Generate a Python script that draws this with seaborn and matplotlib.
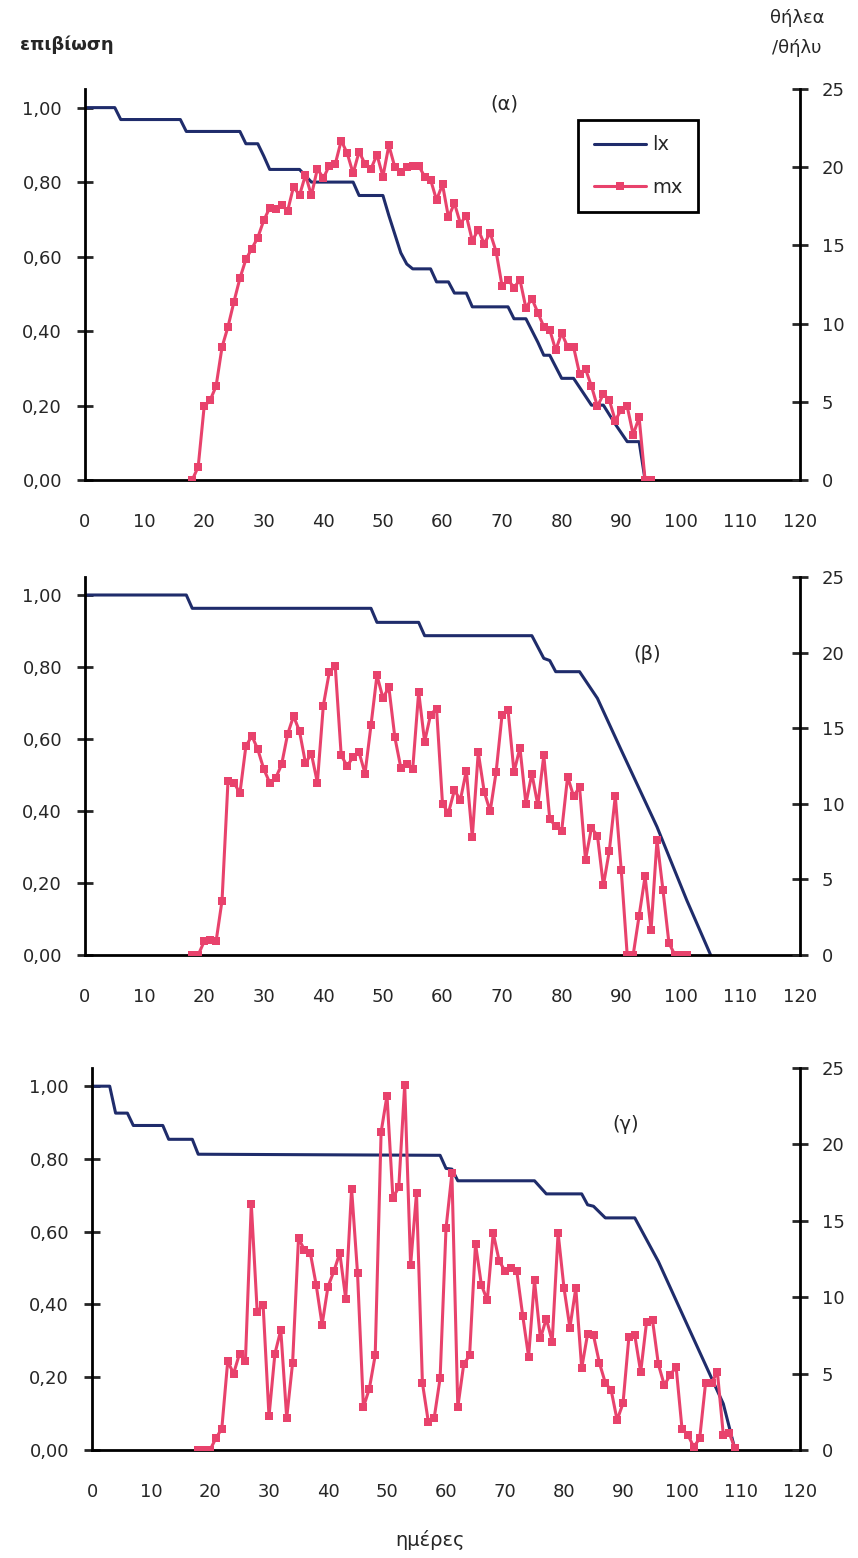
import numpy as np
import pandas as pd
import matplotlib
matplotlib.use("Agg")
import matplotlib.pyplot as plt
import seaborn as sns
from matplotlib.ticker import FuncFormatter
from matplotlib.lines import Line2D

sns.set_style("white")
plt.rcParams['font.family'] = ['DejaVu Sans']

BLUE = '#1f2c6b'
PINK = '#e8426c'

# (α) lx = επιβίωση (κορυφές της γραμμής), mx = θήλεα/θήλυ ανά ημέρα
lx_a_day = [0, 5, 6, 16, 17, 26, 27, 29, 30, 31, 36, 38, 45, 46, 50, 51, 52, 53, 54, 55,
            58, 59, 61, 62, 64, 65, 71, 72, 74, 76, 77, 78, 80, 82, 85, 87, 89, 91, 93, 94]
lx_a = [1.0, 1.0, 0.968, 0.968, 0.936, 0.936, 0.903, 0.903, 0.87, 0.834, 0.834, 0.80, 0.80, 0.764,
        0.764, 0.71, 0.66, 0.61, 0.58, 0.567, 0.567, 0.532, 0.532, 0.502, 0.502, 0.465, 0.465,
        0.433, 0.433, 0.37, 0.335, 0.335, 0.273, 0.273, 0.201, 0.201, 0.15, 0.103, 0.103, 0.0]
mx_a_day = list(range(18, 96))
mx_a = [0, 0.85, 4.7, 5.1, 6.0, 8.5, 9.8, 11.4, 12.9, 14.1, 14.8, 15.5, 16.6, 17.4, 17.3, 17.6,
        17.2, 18.75, 18.2, 19.5, 18.2, 19.9, 19.3, 20.1, 20.2, 21.7, 20.9, 19.6, 21.0, 20.2, 19.9,
        20.8, 19.4, 21.4, 20.0, 19.7, 20.0, 20.1, 20.1, 19.4, 19.2, 17.9, 18.9, 16.8, 17.7, 16.4,
        16.9, 15.3, 16.0, 15.1, 15.8, 14.6, 12.4, 12.8, 12.3, 12.8, 11.0, 11.6, 10.7, 9.8, 9.6,
        8.3, 9.4, 8.5, 8.5, 6.8, 7.1, 6.0, 4.7, 5.5, 5.1, 3.8, 4.5, 4.7, 2.9, 4.0, 0, 0]

# (β)
lx_b_day = [0, 17, 18, 48, 49, 56, 57, 75, 77, 78, 79, 83, 86, 90, 96, 101, 105]
lx_b = [1.0, 1.0, 0.963, 0.963, 0.924, 0.924, 0.887, 0.887, 0.824, 0.818, 0.787, 0.787,
        0.713, 0.569, 0.356, 0.152, 0.0]
mx_b_day = list(range(18, 102))
mx_b = [0, 0, 0.9, 1.0, 0.9, 3.6, 11.5, 11.4, 10.7, 13.8, 14.5, 13.6, 12.3, 11.4, 11.7, 12.6,
        14.6, 15.8, 14.8, 12.7, 13.3, 11.4, 16.5, 18.7, 19.1, 13.2, 12.5, 13.1, 13.4, 12.0, 15.2,
        18.5, 17.0, 17.7, 14.4, 12.4, 12.6, 12.3, 17.4, 14.1, 15.9, 16.3, 10.0, 9.4, 10.9, 10.25,
        12.2, 7.8, 13.4, 10.8, 9.5, 12.1, 15.9, 16.2, 12.1, 13.7, 10.0, 12.0, 9.9, 13.2, 9.0, 8.5,
        8.2, 11.8, 10.5, 11.1, 6.3, 8.4, 7.9, 4.6, 6.9, 10.5, 5.6, 0, 0, 2.6, 5.2, 1.65, 7.6, 4.3,
        0.8, 0, 0, 0]

# (γ)
lx_c_day = [0, 3, 4, 6, 7, 12, 13, 17, 18, 59, 60, 61, 62, 75, 77, 83, 84, 85, 87, 92, 96,
            101, 107, 109]
lx_c = [1.0, 1.0, 0.926, 0.926, 0.892, 0.892, 0.854, 0.854, 0.813, 0.81, 0.774, 0.772, 0.74,
        0.74, 0.704, 0.704, 0.674, 0.67, 0.638, 0.638, 0.518, 0.34, 0.127, 0.0]
mx_c_day = list(range(18, 110))
mx_c = [0, 0, 0, 0.77, 1.4, 5.8, 5.0, 6.3, 5.8, 16.1, 9.05, 9.5, 2.2, 6.3, 7.85, 2.1, 5.7, 13.85,
        13.1, 12.9, 10.8, 8.2, 10.7, 11.7, 12.9, 9.9, 17.1, 11.6, 2.8, 4.0, 6.2, 20.8, 23.2, 16.5,
        17.2, 23.9, 12.1, 16.8, 4.4, 1.85, 2.1, 4.7, 14.5, 18.1, 2.8, 5.6, 6.2, 13.5, 10.8, 9.8,
        14.2, 12.4, 11.7, 11.9, 11.7, 8.8, 6.1, 11.1, 7.3, 8.6, 7.1, 14.2, 10.6, 8.0, 10.6, 5.35,
        7.6, 7.5, 5.7, 4.4, 3.9, 1.96, 3.05, 7.4, 7.5, 5.1, 8.4, 8.5, 5.6, 4.25, 4.9, 5.45, 1.4,
        0.98, 0.2, 0.77, 4.4, 4.4, 5.1, 1.0, 1.1, 0.1]

W, H = 858, 1558
fig = plt.figure(figsize=(W / 100, H / 100), dpi=100)


def comma(v, pos):
    return ('%.2f' % v).replace('.', ',')


def panel(rect, lx_day, lx, mx_day, mx, tag, tag_xy):
    ax = fig.add_axes(rect)
    ax2 = ax.twinx()
    sns.lineplot(x=lx_day, y=lx, ax=ax, color=BLUE, linewidth=2.2, sort=False, estimator=None)
    sns.lineplot(x=mx_day, y=mx, ax=ax2, color=PINK, linewidth=2.2, marker='s', markersize=5.5,
                 markeredgewidth=0, sort=False, estimator=None)
    ax.set_xlim(0, 120)
    ax.set_ylim(0, 1.05)
    ax2.set_ylim(0, 25)
    ax.set_xticks(range(0, 121, 10))
    ax.set_yticks([0, 0.2, 0.4, 0.6, 0.8, 1.0])
    ax2.set_yticks([0, 5, 10, 15, 20, 25])
    ax.yaxis.set_major_formatter(FuncFormatter(comma))
    for a in (ax, ax2):
        a.set_xlabel('')
        a.set_ylabel('')
        a.spines['top'].set_visible(False)
        for s in a.spines.values():
            s.set_linewidth(2)
            s.set_color('black')
    ax.spines['right'].set_visible(False)
    ax2.spines['left'].set_visible(False)
    ax2.spines['bottom'].set_visible(False)
    ax.tick_params(axis='y', direction='inout', length=11, width=2, pad=11, labelsize=13)
    ax.tick_params(axis='x', direction='out', length=7, width=2, pad=17, labelsize=13)
    ax2.tick_params(axis='y', direction='inout', length=11, width=2, pad=10, labelsize=13)
    ax.text(tag_xy[0], tag_xy[1], tag, transform=ax.transAxes, ha='center', va='center',
            fontsize=14)
    return ax, ax2


ax_a, ax_a2 = panel([85 / W, 1 - 480 / H, 715 / W, 391 / H], lx_a_day, lx_a, mx_a_day, mx_a,
                    '(α)', (0.587, 0.962))
panel([85 / W, 1 - 955 / H, 715 / W, 378 / H], lx_b_day, lx_b, mx_b_day, mx_b,
      '(β)', (0.786, 0.796))
panel([92 / W, 1 - 1450 / H, 708 / W, 382 / H], lx_c_day, lx_c, mx_c_day, mx_c,
      '(γ)', (0.754, 0.851))

handles = [Line2D([], [], color=BLUE, linewidth=2.2),
           Line2D([], [], color=PINK, linewidth=2.2, marker='s', markersize=5.5,
                  markeredgewidth=0)]
leg = ax_a2.legend(handles, ['lx', 'mx'], loc='upper left', bbox_to_anchor=(0.69, 0.921),
                   borderaxespad=0, fancybox=False, fontsize=14, handlelength=2.7,
                   handletextpad=0.3, labelspacing=1.2, borderpad=0.8, framealpha=1)
leg.get_frame().set_edgecolor('black')
leg.get_frame().set_linewidth(2)

fig.text(20 / W, 1 - 45 / H, 'επιβίωση', fontsize=13, fontweight='bold', ha='left',
         va='center')
fig.text(797 / W, 1 - 18 / H, 'θήλεα', fontsize=13, ha='center', va='center')
fig.text(797 / W, 1 - 48 / H, '/θήλυ', fontsize=13, ha='center', va='center')
fig.text(430 / W, 1 - 1540 / H, 'ημέρες', fontsize=14, ha='center', va='center')

fig.savefig('out.png', dpi=100)
